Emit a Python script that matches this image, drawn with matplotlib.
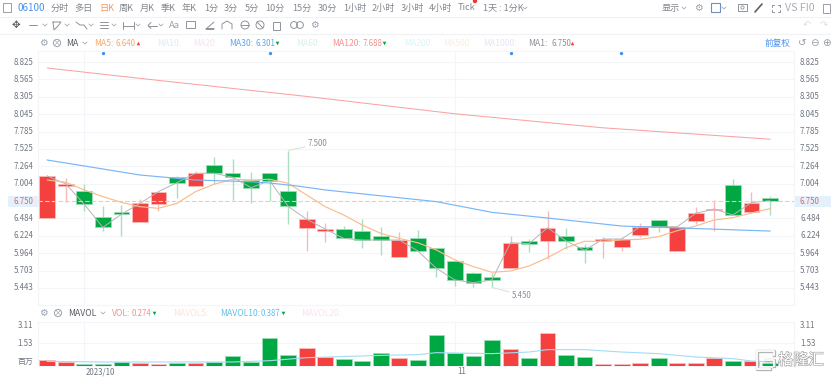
import matplotlib
matplotlib.use('Agg')
import matplotlib.pyplot as plt
import matplotlib.patheffects as pe
from matplotlib.patches import Rectangle, Circle
import numpy as np

plt.rcParams['font.family'] = ['Noto Sans CJK SC', 'DejaVu Sans']

#candles
opens = [6.495, 6.970, 6.900, 6.500, 6.580, 6.435, 6.695, 7.100, 6.975, 7.283,
         7.160, 7.059, 7.160, 6.900, 6.345, 6.300, 6.320, 6.300, 6.225, 5.912,
         6.185, 6.037, 5.847, 5.662, 5.603, 5.737, 6.146, 6.141, 6.221, 6.052,
         6.141, 6.057, 6.236, 6.465, 6.001, 6.441, 6.615, 6.980, 6.575, 6.790]
closes = [7.119, 7.000, 6.695, 6.350, 6.545, 6.710, 6.885, 7.020, 7.160, 7.160,
          7.100, 6.945, 7.050, 6.665, 6.470, 6.325, 6.185, 6.161, 6.161, 6.161,
          5.997, 5.737, 5.563, 5.522, 5.563, 6.121, 6.106, 6.345, 6.146, 6.007,
          6.176, 6.176, 6.360, 6.360, 6.360, 6.561, 6.625, 6.535, 6.720, 6.750]
highs = [7.134, 7.084, 7.000, 6.670, 6.685, 6.770, 6.885, 7.120, 7.195, 7.400,
         7.375, 7.185, 7.160, 7.500, 6.600, 6.410, 6.370, 6.470, 6.350, 6.285,
         6.311, 6.037, 5.847, 5.687, 5.672, 6.221, 6.171, 6.600, 6.336, 6.101,
         6.211, 6.206, 6.420, 6.465, 6.360, 6.651, 6.760, 7.075, 6.880, 6.820]
lows = [6.495, 6.735, 6.600, 6.300, 6.220, 6.435, 6.600, 6.795, 6.975, 6.995,
        6.760, 6.720, 6.745, 6.400, 5.997, 6.127, 6.185, 6.037, 5.937, 5.912,
        5.997, 5.603, 5.477, 5.463, 5.450, 5.737, 5.977, 5.872, 6.022, 5.822,
        5.897, 6.001, 6.211, 6.285, 6.001, 6.401, 6.301, 6.535, 6.575, 6.535]
ma5 = [7.059, 7.025, 6.910, 6.810, 6.725, 6.660, 6.635, 6.710, 6.885, 6.995,
       7.070, 7.059, 7.070, 7.010, 6.835, 6.660, 6.535, 6.385, 6.260, 6.185,
       6.120, 6.012, 5.862, 5.762, 5.678, 5.697, 5.772, 5.896, 6.046, 6.142,
       6.142, 6.161, 6.172, 6.211, 6.301, 6.371, 6.461, 6.495, 6.565, 6.630]
ma30Idx = [0, 2, 5, 8, 11, 12, 13.5, 15, 21, 24, 27, 31, 39]
ma30 = [7.358, 7.269, 7.134, 7.059, 7.033, 7.014, 6.969, 6.910, 6.735, 6.575, 6.490, 6.370, 6.295]
ma120Idx = [0, 6, 14, 22, 30, 39]
ma120 = [8.735, 8.550, 8.310, 8.050, 7.840, 7.670]
lastPrice = 6.750
priceTicks = [8.825, 8.565, 8.305, 8.045, 7.785, 7.525, 7.264, 7.004, 6.484, 6.224, 5.964, 5.703, 5.443]

volumes = [0.52, 0.37, 0.18, 0.18, 0.34, 0.25, 0.15, 0.25, 0.31, 0.40,
           0.95, 0.34, 2.62, 1.05, 1.66, 0.86, 0.62, 0.43, 1.23, 0.77,
           0.52, 2.83, 1.20, 0.89, 2.43, 1.57, 0.77, 3.08, 0.98, 0.83,
           0.22, 0.18, 0.31, 0.77, 0.25, 0.31, 0.71, 0.46, 0.43, 0.27]
mavolIdx = [0, 3, 10, 12, 14, 18, 20, 21, 24, 26, 27, 29, 31, 33, 35, 37, 38, 39]
mavol = [0.43, 0.37, 0.37, 0.49, 0.77, 0.98, 1.05, 1.23, 1.14, 1.29, 1.51, 1.51, 1.29, 1.14, 0.83, 0.68, 0.46, 0.37]

RED = '#f54040'
GREEN = '#00a843'
GRID = '#f3f5f9'
TICK = '#707680'
ICON = '#8e939b'
NUM = 5.7

W, H = 831., 377.

def pixAxes(fig, left, top, right, bottom):
    return fig.add_axes([left/W, 1-bottom/H, (right-left)/W, (bottom-top)/H])

fig = plt.figure(figsize=(8.31, 3.77), dpi=100)

#overlay in pixels for the toolbar text and frame
bg = fig.add_axes([0, 0, 1, 1], zorder=0)
bg.set_xlim(0, W)
bg.set_ylim(H, 0)
bg.axis('off')

ax = pixAxes(fig, 38, 51, 794, 305)
vol = pixAxes(fig, 38, 322, 794, 366)
for a in (ax, vol):
    a.set_zorder(1)
    a.patch.set_alpha(0)
    a.set_xlim(-0.5, 40.3)
    a.set_xticks([2, 22])
    a.grid(True, color=GRID, lw=0.8)
    a.set_axisbelow(True)
    a.tick_params(length=0, labelbottom=False, labelleft=False)
    for s in a.spines.values():
        s.set_color(GRID)
        s.set_linewidth(0.8)

x = np.arange(len(opens))
colors = [RED if c >= o else GREEN for o, c in zip(opens, closes)]
wicks = ['#f9b9b9' if c == RED else '#aadfbf' for c in colors]
edges = ['#fbbcbc' if c == RED else '#9bdcb5' for c in colors]

ax.vlines(x, lows, highs, colors=wicks, lw=1.0, zorder=2)
bodyLow = np.minimum(opens, closes)
bodyHeight = np.abs(np.array(closes)-np.array(opens))
ax.bar(x, bodyHeight, 0.85, bottom=bodyLow, color=colors, edgecolor=edges, linewidth=0.6, zorder=3)

ax.plot(x, closes, color='#b5b5b5', lw=0.7, zorder=4)
ax.plot(x, ma5, color='#f9bd8c', lw=0.85, zorder=5)
ax.plot(ma30Idx, ma30, color='#79b6f7', lw=0.85, zorder=5)
ax.plot(ma120Idx, ma120, color='#f9a3a3', lw=0.75, zorder=5)
ax.axhline(lastPrice, color='#f8c9a4', lw=0.8, ls=(0, (4, 2)), zorder=4)

ax.set_ylim(5.188, 8.990)
ax.set_yticks(priceTicks)

ax.annotate('7.500', xy=(13, 7.500), xytext=(308, 144), textcoords=bg.transData,
            fontsize=NUM, color='#8a8f96', va='center', ha='left',
            arrowprops=dict(arrowstyle='-', color='#dddddd', lw=0.7, shrinkA=0, shrinkB=0))
ax.annotate('5.450', xy=(24, 5.450), xytext=(512, 295), textcoords=bg.transData,
            fontsize=NUM, color='#8a8f96', va='center', ha='left',
            arrowprops=dict(arrowstyle='-', color='#dddddd', lw=0.7, shrinkA=0, shrinkB=0))

for tick in priceTicks:
    ax.text(-0.006, tick, '%.3f' % tick, transform=ax.get_yaxis_transform(), ha='right', va='center',
            fontsize=NUM, color=TICK)
    ax.text(1.008, tick, '%.3f' % tick, transform=ax.get_yaxis_transform(), ha='left', va='center',
            fontsize=NUM, color=TICK)

#last price boxes on both sides
for bx, bw, tx in ((8, 30, 14), (794, 37, 800)):
    bg.add_patch(Rectangle((bx, 195.5), bw, 11.5, color='#e4f0fc', lw=0))
    bg.text(tx, 201, '%.3f' % lastPrice, fontsize=NUM, color='#f0606a', va='center', ha='left')

vol.bar(x, volumes, 0.85, color=colors, edgecolor=edges, linewidth=0.6, zorder=3)
vol.plot(mavolIdx, mavol, color='#a3dcf3', lw=0.8, zorder=4)
vol.set_ylim(0, 4.06)
vol.set_yticks([])

#volume axis labels sit on the grid rows, not on the bar scale
volLabels = ['3.11', '1.53', '百万']
volLabelY = [326, 343, 361]
for lab, yy in zip(volLabels, volLabelY):
    bg.text(33, yy, lab, fontsize=NUM, color=TICK, ha='right', va='center')
    if lab != '百万':
        bg.text(800, yy, lab, fontsize=NUM, color=TICK, ha='left', va='center')
bg.plot([38, 794], [343, 343], color=GRID, lw=0.8)
bg.text(86, 372, '2023/10', fontsize=NUM, color=TICK, va='center', ha='left')
bg.text(457, 372, '11', fontsize=NUM, color=TICK, va='center', ha='left')

#toolbar row
tabs = [('分时', 51), ('多日', 74), ('日K', 99), ('周K', 119), ('月K', 140), ('季K', 161), ('年K', 182),
        ('1分', 204), ('3分', 224), ('5分', 245), ('10分', 265), ('15分', 292), ('30分', 318),
        ('1小时', 343), ('2小时', 372), ('3小时', 401), ('4小时', 429), ('Tick', 458), ('1天 : 1分K', 483), ('显示', 662)]
for lab, tx in tabs:
    bg.text(tx, 8, lab, fontsize=6.6, va='center', ha='left', color='#f59a5a' if lab == '日K' else '#84888f')
bg.text(18, 8, '06100', fontsize=7.0, va='center', ha='left', color='#4a90f0')
bg.text(785, 8, 'VS FI0', fontsize=7.6, va='center', ha='left', color='#a9adb3')

def shape(xs, ys, col=ICON, lw=0.7):
    bg.plot(xs, ys, color=col, lw=lw, solid_capstyle='round')

def chevron(cx, cy, col='#a5a9af'):
    shape([cx-2, cx, cx+2], [cy-1, cy+1, cy-1], col, 0.6)

for cx, cy in ((45, 25), (67, 25), (91, 25), (114, 25), (138, 25), (161, 25),
               (525, 8), (684, 8), (724, 8), (85, 43), (103, 313)):
    chevron(cx, cy)

bg.add_patch(Rectangle((3, 3), 8, 9, fill=False, ec='#9a9ea5', lw=0.7))
bg.add_patch(Rectangle((823, 4), 7, 9, fill=False, ec='#9a9ea5', lw=0.7))
bg.add_patch(Circle((475, 1), 2.2, color='#ee3333', lw=0))
bg.add_patch(Rectangle((711, 3), 9, 9, fill=False, ec='#6f8fc0', lw=0.8))
for gx, gy in ((698, 8), (314, 25), (43, 43), (43, 313)):
    bg.text(gx, gy, '\u2699', fontsize=7, color='#9aa3b0', ha='center', va='center', family='DejaVu Sans')

#second row icons, drawn small
bg.text(16, 25, '\u2725', fontsize=7.5, color='#555a62', ha='center', va='center', family='DejaVu Sans')
shape([29, 37], [25, 25])
shape([53, 61, 58, 54, 53], [22, 22, 26, 30, 22])
shape([76, 80, 84, 87], [22, 25, 25, 29])
shape([100, 108], [22, 22]); shape([100, 108], [25, 25]); shape([100, 108], [28, 28])
shape([123, 123], [22, 29]); shape([134, 134], [22, 29]); shape([123, 134], [25.5, 25.5])
shape([148, 157], [25.5, 25.5]); shape([151, 148, 151], [22.5, 25.5, 28.5])
bg.text(174, 25, 'Aa', fontsize=6.8, color='#9a9ea5', ha='center', va='center')
bg.add_patch(Rectangle((186, 21), 9, 7, fill=False, ec=ICON, lw=0.7))
shape([206, 214, 206, 214], [29, 29, 29, 22])
shape([222, 222, 227, 232, 232], [29, 24, 21, 24, 29])
for cx, cy, fillx in ((245, 25, True), (260, 25, False)):
    bg.add_patch(Circle((cx, cy), 4, fill=False, ec=ICON, lw=0.7))
shape([241, 249], [25, 25]); shape([257, 263], [22, 28])
bg.add_patch(Rectangle((273, 22), 7, 8, fill=False, ec=ICON, lw=0.7))
bg.add_patch(Circle((294, 25), 3.4, fill=False, ec=ICON, lw=0.7))
bg.add_patch(Circle((300, 25), 3.4, fill=False, ec=ICON, lw=0.7))

#top right icons
bg.add_patch(Rectangle((738, 4), 9, 7, fill=False, ec=ICON, lw=0.7))
bg.add_patch(Circle((742.5, 7.5), 1.6, fill=False, ec=ICON, lw=0.6))
shape([755, 762], [12, 4], '#5a5f66', 1.2)
for cx, cy, dx, dy in ((772, 5, 1, 1), (780, 5, -1, 1), (772, 12, 1, -1), (780, 12, -1, -1)):
    shape([cx+2*dx, cx, cx], [cy, cy, cy+2*dy])
for tx, glyph in ((807, '\u21b6'), (824, '\u21b7')):
    bg.text(tx, 25, glyph, fontsize=7, color='#dcdfe3', ha='center', va='center', family='DejaVu Sans')
for yy in (17, 34):
    bg.plot([0, W], [yy, yy], color='#f0f1f3', lw=0.8)

#legend rows
def legendItems(items, yy):
    for lab, tx, col in items:
        size = NUM if lab[0].isdigit() else 6.2
        bg.text(tx, yy, lab, fontsize=size, color=col, va='center', ha='left')

legendItems([('MA', 66, '#555a62'), ('MA5:', 94, '#f9a868'), ('6.640', 116, '#f9a868'),
             ('MA10:', 157, '#dcebfb'), ('MA20:', 193, '#fbe0f3'), ('MA30:', 229, '#5ba4f5'), ('6.301', 255, '#5ba4f5'),
             ('MA60:', 296, '#d6f2e4'), ('MA120:', 332, '#f98f8f'), ('7.688', 363, '#f98f8f'),
             ('MA200:', 404, '#d8f5fb'), ('MA500:', 443, '#fdeed8'), ('MA1000:', 483, '#e9e2fb'),
             ('MA1:', 528, '#8d9096'), ('6.750', 551, '#8d9096'), ('前复权', 765, '#4a90f0')], 43)
legendItems([('MAVOL', 68, '#555a62'), ('VOL:', 112, '#f98f8f'), ('0.274', 132, '#f98f8f'),
             ('MAVOL5:', 173, '#fde3d6'), ('MAVOL10:', 220, '#62c0ea'), ('0.387', 261, '#62c0ea'),
             ('MAVOL20:', 301, '#fbe0f3')], 313)
for mx, my, mk, col in ((138, 43, '^', RED), (277, 43, 'v', GREEN), (384, 43, 'v', GREEN), (572, 43, '^', RED),
                        (154, 313, 'v', GREEN), (283, 313, 'v', GREEN)):
    bg.plot([mx], [my], marker=mk, ms=2.6, color=col, mew=0)
for gx, gy in ((57, 43), (58, 313)):
    bg.add_patch(Circle((gx, gy), 3.6, fill=False, ec='#9aa3b0', lw=0.7))
    bg.text(gx, gy, '\u00d7', fontsize=6, color='#9aa3b0', ha='center', va='center')
for gx, gl in ((802, '\u21ba'), (814, '\u2296'), (826, '\u2295')):
    bg.text(gx, 43, gl, fontsize=7.5, color='#9a9ea5', ha='center', va='center', family='DejaVu Sans')
bg.plot([103, 270, 510.5, 621], [53]*4, ls='', marker='o', ms=2.4, color='#3d8ef0', mew=0, zorder=6)

#watermark on top of everything
wm = pixAxes(fig, 750, 345, 831, 375)
wm.set_zorder(5)
wm.axis('off')
wm.set_xlim(750, 831)
wm.set_ylim(375, 345)
wm.text(778, 360, '格隆汇', fontsize=11, color='white', va='center', ha='left',
        path_effects=[pe.withStroke(linewidth=1.0, foreground='#a9a9a9')])
logoX = [774, 774, 757, 757, 770]
logoY = [355, 351, 351, 369, 369]
wm.plot(logoX, logoY, color='#b5b5b5', lw=2.4)
wm.plot(logoX, logoY, color='white', lw=1.3)
wm.plot([766, 774, 774], [360, 360, 366], color='#b5b5b5', lw=2.4)
wm.plot([766, 774, 774], [360, 360, 366], color='white', lw=1.3)

fig.savefig('out.png', dpi=100)
